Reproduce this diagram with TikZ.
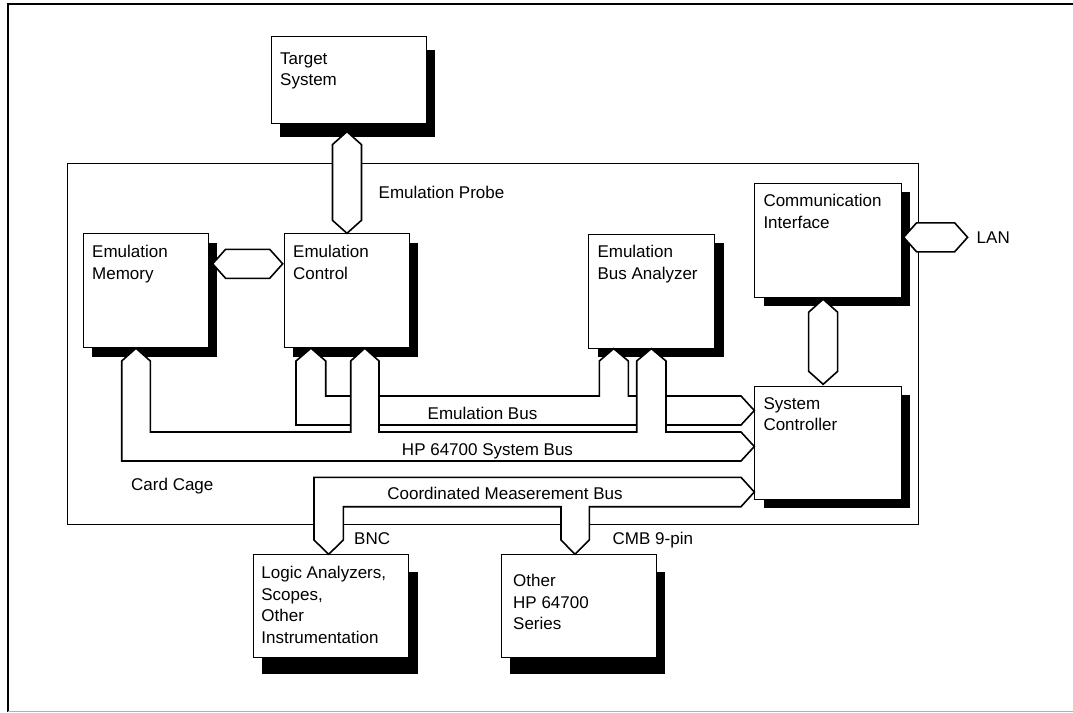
\documentclass[tikz,border=0pt]{standalone}
\usepackage{fontspec}
\setmainfont{Liberation Sans}
\usetikzlibrary{calc,shadows}
\tikzset{
  unit/.style={draw, fill=white, line width=0.9pt, anchor=north west, inner sep=0pt,
    drop shadow={shadow xshift=9pt, shadow yshift=-#1, fill=black, opacity=1}},
  unit/.default=9pt,
  txt/.style={anchor=north west, align=left, inner sep=0pt, font=\fontsize{17}{21.5}\selectfont},
  link/.style={draw, fill=white, line width=1.6pt, line join=miter},
}
% double pointed links between two points
\newcommand{\vlink}[2]{\draw[link] (#1) -- ++(14.5,13) -- ($(#2)+(14.5,-13)$) -- (#2)
  -- ($(#2)+(-14.5,-13)$) -- ($(#1)+(-14.5,13)$) -- cycle;}
\newcommand{\hlink}[2]{\draw[link] (#1) -- ++(13,-14.5) -- ($(#2)+(-13,-14.5)$) -- (#2)
  -- ($(#2)+(-13,14.5)$) -- ($(#1)+(13,14.5)$) -- cycle;}
\begin{document}
\begin{tikzpicture}[x=1pt,y=-1pt]
  \useasboundingbox (0,0) rectangle (1073,712);
  \draw[line width=2.2pt] (8,712) -- (8,3.7) -- (1073,3.7);
  \draw[black!30] (8,711) -- (1073,711);
  \node[draw, line width=0.9pt, anchor=north west, inner sep=0pt,
    minimum width=851pt, minimum height=361pt] (cage) at (67,163) {};

  % units
  \node[unit=14pt, minimum width=155pt, minimum height=87pt] (tgt) at (271,35.7) {};
  \node[unit, minimum width=125pt, minimum height=114pt] (mem) at (83,233.3) {};
  \node[unit, minimum width=125pt, minimum height=114pt] (ctrl) at (284,233.3) {};
  \node[unit, minimum width=126pt, minimum height=114pt] (eba) at (588.3,233.7) {};
  \node[unit, minimum width=146.4pt, minimum height=114pt] (comm) at (754.3,182.7) {};
  \node[unit, minimum width=146.4pt, minimum height=113.3pt] (sysctl) at (754.3,385.7) {};
  \node[unit=17pt, minimum width=155.6pt, minimum height=102.4pt] (logic) at (252.7,554.3) {};
  \node[unit=17pt, minimum width=155pt, minimum height=102.4pt] (other) at (501,554.3) {};

  \node[txt] (tgttxt) at ([shift={(9,16.6)}]tgt.north west) {Target\\System};
  \node[txt] (memtxt) at ([shift={(9,11.7)}]mem.north west) {Emulation\\Memory};
  \node[txt] (ctrltxt) at ([shift={(9,11.7)}]ctrl.north west) {Emulation\\Control};
  \node[txt] (ebatxt) at ([shift={(9,11.7)}]eba.north west) {Emulation\\Bus Analyzer};
  \node[txt] (commtxt) at ([shift={(9,11.7)}]comm.north west) {Communication\\Interface};
  \node[txt] (sysctltxt) at ([shift={(9,11.7)}]sysctl.north west) {System\\Controller};
  \node[txt] (logictxt) at ([shift={(8.5,11.7)}]logic.north west) {Logic Analyzers,\\Scopes,\\Other\\Instrumentation};
  \node[txt] (othertxt) at ([shift={(12,20)}]other.north west) {Other\\HP 64700\\Series};

  % links
  \coordinate (probetop) at ($(tgt.south -| ctrl.north)+(0,8)$);
  \vlink{probetop}{ctrl.north}
  \coordinate (memside) at ($(mem.north east)+(3.7,30.5)$);
  \coordinate (ctrlside) at ($(memside -| ctrl.west)+(-1.3,0)$);
  \hlink{memside}{ctrlside}
  \coordinate (commside) at ($(comm.north east)+(2,54.6)$);
  \coordinate (lanend) at ($(commside)+(64,0)$);
  \hlink{commside}{lanend}
  \coordinate (commlow) at ($(comm.south)+(-4.8,1.6)$);
  \coordinate (sysctltop) at ($(commlow |- sysctl.north)+(0,-1.4)$);
  \vlink{commlow}{sysctltop}

  % system bus
  \draw[link] (121.7,361) -- (mem.south -| 136,0) -- (150.3,361) -- (150.3,432) -- (741,432)
    -- (sysctl.west |- 0,446.5) -- (741,461) -- (121.7,461) -- cycle;
  % emulation bus
  \draw[link] (296,361) -- (ctrl.south -| 311,0) -- (325.7,361) -- (325.7,396)
    -- (599.3,396) -- (599.3,361) -- (eba.south -| 613.7,0) -- (628.3,361) -- (628.3,396)
    -- (741,396) -- (sysctl.west |- 0,410.5) -- (741,425) -- (296,425) -- cycle;
  % system bus stems
  \fill[white] (350.7,433.5) -- (350.7,361) -- (ctrl.south -| 364.8,0) -- (379,361) -- (379,433.5) -- cycle;
  \draw[link, fill=none] (350.7,432.8) -- (350.7,361) -- (ctrl.south -| 364.8,0) -- (379,361) -- (379,432.8);
  \fill[white] (636.7,433.5) -- (636.7,361) -- (eba.south -| 651.3,0) -- (666,361) -- (666,433.5) -- cycle;
  \draw[link, fill=none] (636.7,432.8) -- (636.7,361) -- (eba.south -| 651.3,0) -- (666,361) -- (666,432.8);
  % coordinated measurement bus
  \draw[link] (314,477.3) -- (741,477.3) -- (sysctl.west |- 0,492) -- (741,506.7)
    -- (589.3,506.7) -- (589.3,540) -- (other.north -| 575,0) -- (561,540) -- (561,506.7)
    -- (343.3,506.7) -- (343.3,540) -- (logic.north -| 328.7,0) -- (314,540) -- cycle;

  \node[txt, anchor=base] (ebuslbl) at (482.5,419.5) {Emulation Bus};
  \node[txt, anchor=base] (sbuslbl) at (487.5,455.5) {HP 64700 System Bus};
  \node[txt, anchor=base] (cmblbl) at (505,499) {Coordinated Measerement Bus};
  \node[txt, anchor=base west] (probelbl) at (378.5,198) {Emulation Probe};
  \node[txt, anchor=base west] (lanlbl) at (976.5,243) {LAN};
  \node[txt, anchor=base west] (cagelbl) at (131,490.5) {Card Cage};
  \node[txt, anchor=base west] (bnclbl) at (354,544.5) {BNC};
  \node[txt, anchor=base west] (cmbpinlbl) at (612.5,544.5) {CMB 9-pin};
\end{tikzpicture}
\end{document}
